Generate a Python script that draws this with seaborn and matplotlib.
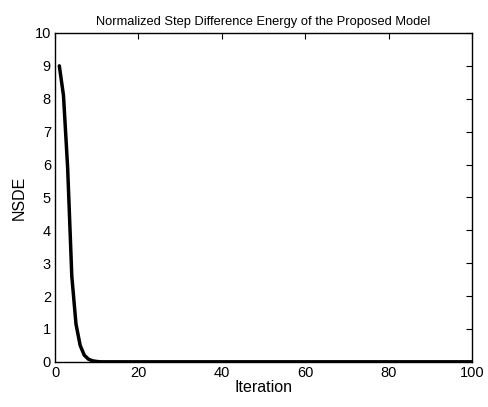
import numpy as np
import pandas as pd
import matplotlib
matplotlib.use("Agg")
import matplotlib.pyplot as plt
import seaborn as sns

# -----------------------------
# DATA
# -----------------------------

iterations = list(range(1, 101))
nsde_head = [9.0, 8.1, 5.9, 2.6, 1.15, 0.5, 0.2, 0.08, 0.03, 0.01]
nsde = nsde_head + [0.0] * (len(iterations) - len(nsde_head))

df = pd.DataFrame({"Iteration": iterations, "NSDE": nsde})

# -----------------------------
# STYLE
# -----------------------------

sns.set_style("white")
plt.rcParams["font.family"] = ["Liberation Sans", "DejaVu Sans"]
plt.rcParams["xtick.direction"] = "in"
plt.rcParams["ytick.direction"] = "in"
plt.rcParams["text.color"] = "black"
plt.rcParams["axes.labelcolor"] = "black"

fig = plt.figure(figsize=(4.88, 4.07), dpi=100)
ax = fig.add_axes([0.113, 0.111, 0.854, 0.808])

sns.lineplot(
    data=df,
    x="Iteration",
    y="NSDE",
    color="black",
    linewidth=2.5,
    ax=ax
)

ax.set_xlim(0, 100)
ax.set_ylim(0, 10)
ax.set_xticks(range(0, 101, 20))
ax.set_yticks(range(0, 11))

ax.tick_params(
    axis="both",
    which="both",
    top=True,
    right=True,
    length=4,
    width=0.8,
    labelsize=10.5,
    colors="black",
    pad=3
)

for side in ax.spines.values():
    side.set_color("black")
    side.set_linewidth(1.0)

ax.set_xlabel("Iteration", fontsize=11.5, labelpad=0)
ax.set_ylabel("NSDE", fontsize=11.5, labelpad=6)
ax.set_title(
    "Normalized Step Difference Energy of the Proposed Model",
    fontsize=9.3,
    pad=6
)

fig.savefig("out.png", dpi=100)
